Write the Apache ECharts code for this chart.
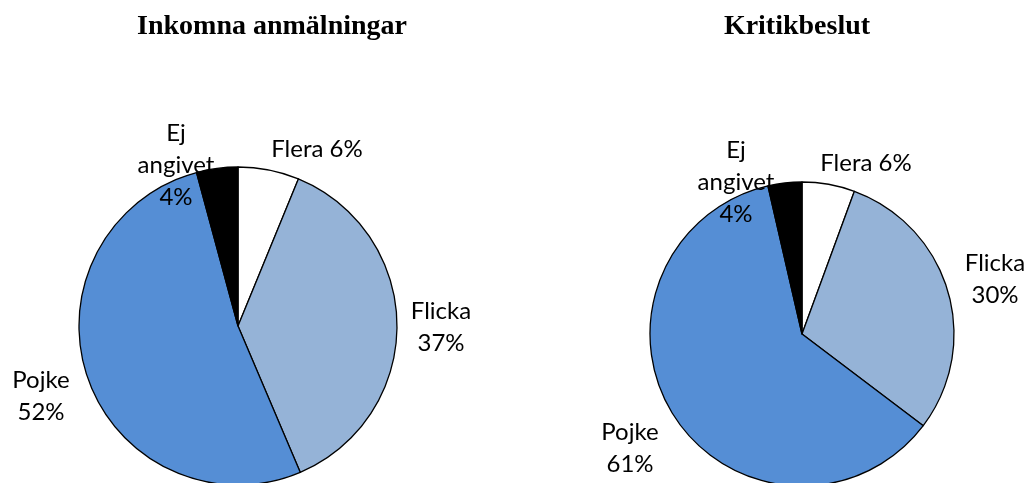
<!DOCTYPE html>
<html>
<head>
<meta charset="utf-8">
<script src="https://cdn.jsdelivr.net/npm/echarts@6/dist/echarts.min.js"></script>
<style>
html,body{margin:0;padding:0;background:#fff;}
#chart{width:1026px;height:483px;}
</style>
</head>
<body>
<div id="chart"></div>
<script>
// ---- data ----
const categories = ['Flera', 'Flicka', 'Pojke', 'Ej\nangivet'];
const titles = ['Inkomna anmälningar', 'Kritikbeslut'];
const inkomnaValues = [6.2, 37.4, 52.2, 4.2];
const kritikValues = [5.6, 29.7, 61.1, 3.6];
const colors = ['#ffffff', '#95b3d7', '#558ed5', '#000000'];

// ---- layout (label anchor points, not data) ----
const leftLabelPos = [[317, 149], [441, 327], [41, 396], [176, 165]];
const rightLabelPos = [[866, 163], [995, 279], [630, 448], [736, 182]];

const labelFont = { fontFamily: 'Lato', fontSize: 24, color: '#000', lineHeight: 32 };
const titleStyle = { fontFamily: 'Liberation Serif', fontWeight: 'bold', fontSize: 28, fill: '#000', textAlign: 'center', textVerticalAlign: 'middle' };

function makeSeries(values, center, radius, pos) {
  return {
    type: 'pie',
    center: center,
    radius: radius,
    startAngle: 90,
    clockwise: true,
    animation: false,
    silent: true,
    data: categories.map((c, i) => ({
      name: c,
      value: values[i],
      itemStyle: { color: colors[i] }
    })),
    itemStyle: { borderColor: '#000', borderWidth: 1.3 },
    label: Object.assign({
      show: true,
      position: 'outside',
      align: 'center',
      overflow: 'none',
      edgeDistance: 0,
      formatter: function (p) {
        const pct = Math.round(p.value) + '%';
        return p.dataIndex === 0 ? p.name + ' ' + pct : p.name + '\n' + pct;
      }
    }, labelFont),
    labelLine: { show: false },
    labelLayout: function (params) {
      const pp = pos[params.dataIndex];
      return { x: pp[0], y: pp[1], align: 'center', verticalAlign: 'middle' };
    },
    emphasis: { disabled: true }
  };
}

const chart = echarts.init(document.getElementById('chart'), null, { renderer: 'canvas' });
chart.setOption({
  backgroundColor: '#ffffff',
  animation: false,
  graphic: [
    { type: 'text', x: 272, y: 27, style: Object.assign({ text: titles[0] }, titleStyle) },
    { type: 'text', x: 797, y: 27, style: Object.assign({ text: titles[1] }, titleStyle) }
  ],
  series: [
    makeSeries(inkomnaValues, [238, 326], 159, leftLabelPos),
    makeSeries(kritikValues, [802, 334], 152, rightLabelPos)
  ]
});
</script>
</body>
</html>
